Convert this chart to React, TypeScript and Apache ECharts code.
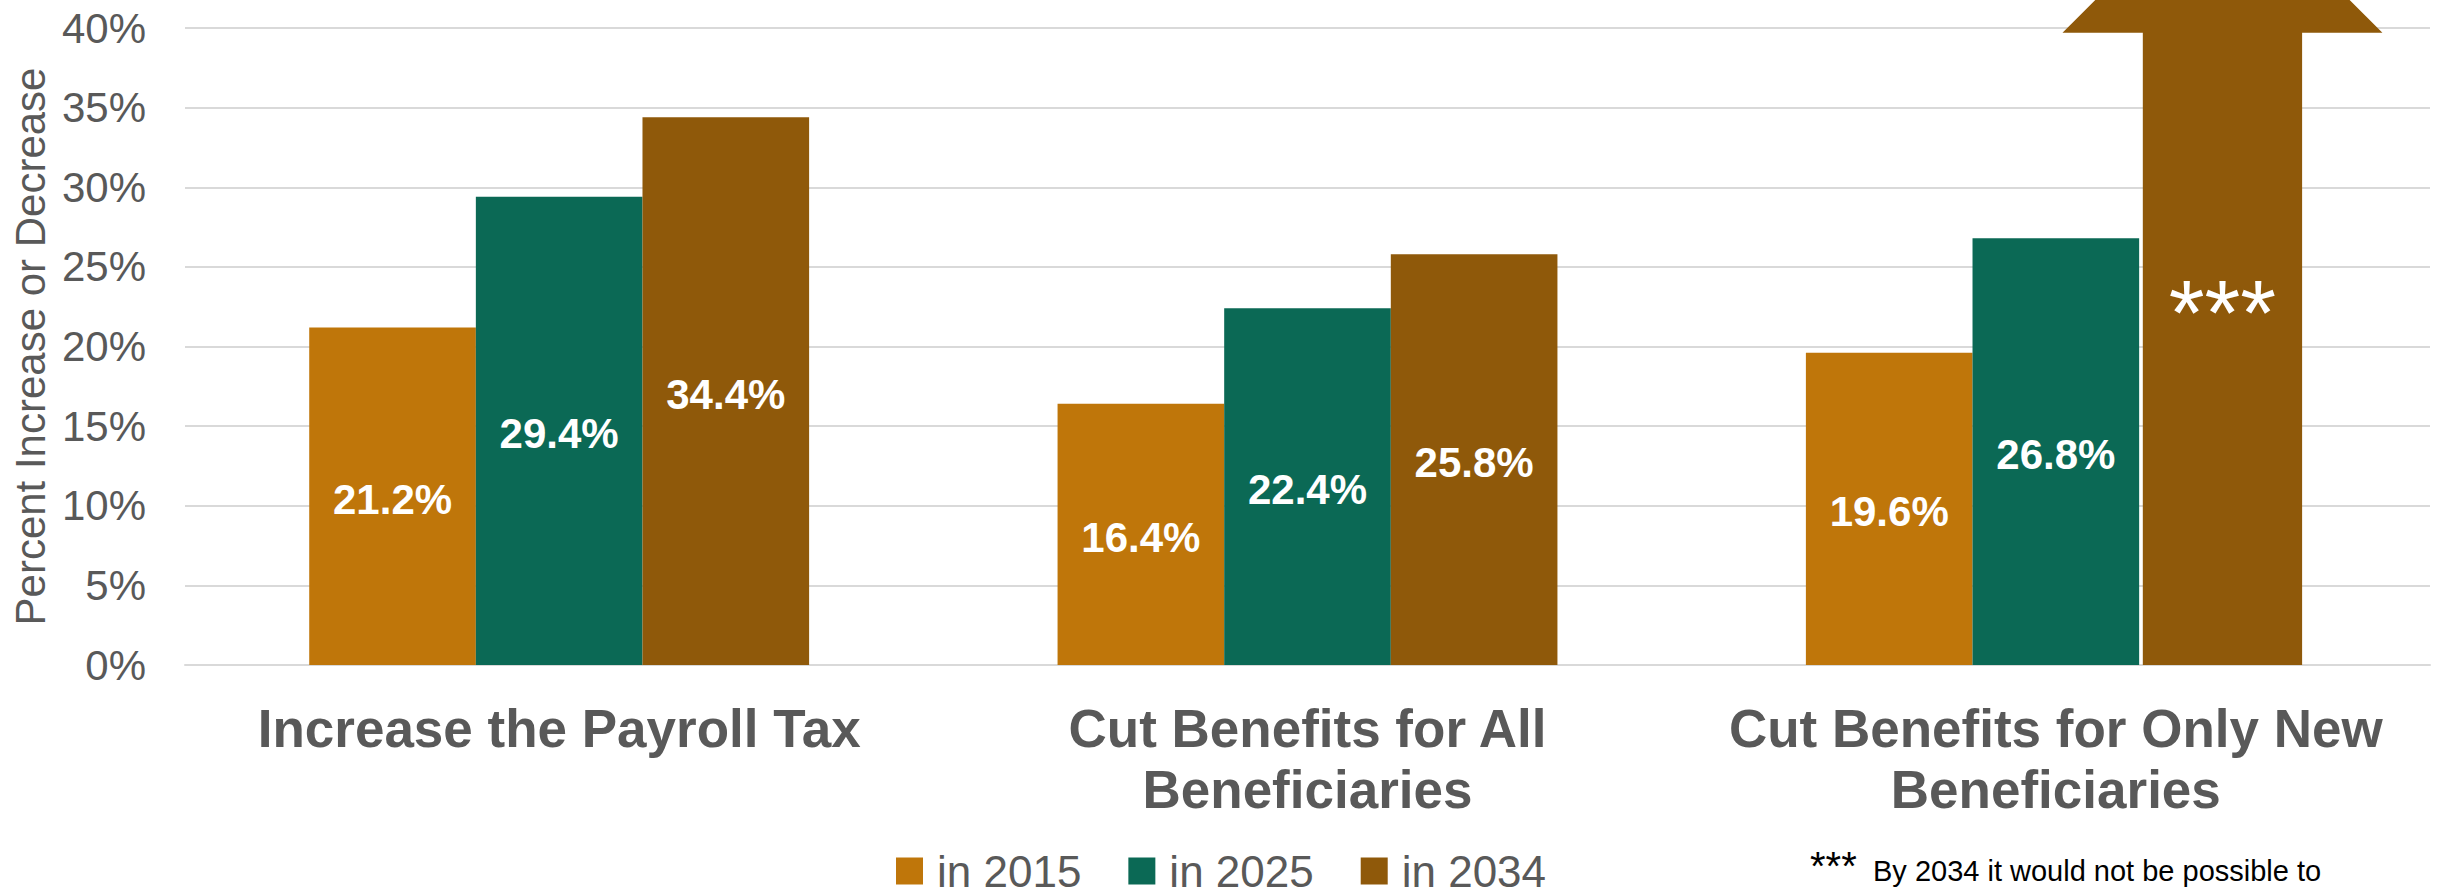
import React, { useEffect, useRef } from "react";
import * as echarts from "echarts";

const categories = [
  "Increase the Payroll Tax",
  "Cut Benefits for All\nBeneficiaries",
  "Cut Benefits for Only New\nBeneficiaries",
];
const seriesNames = ["in 2015", "in 2025", "in 2034"];
const values2015 = [21.2, 16.4, 19.6];
const values2025 = [29.4, 22.4, 26.8];
const values2034 = [34.4, 25.8, null];
// 2034 for "Cut Benefits for Only New Beneficiaries": off the chart (arrow)
const arrowCategoryIndex = 2;
const arrowValue = 39.7;
const arrowLabel = "***";
const yTicks = { min: 0, max: 40, interval: 5 };
const footnoteMark = "***";
const footnoteText = "By 2034 it would not be possible to";

const COLORS = ["#BF760A", "#0B6955", "#8F590A"];
const FONT = "'Liberation Sans', Arial, Helvetica, sans-serif";
const GREY = "#595959";
const BAR_CATEGORY_GAP = 0.332;

export default function App() {
  const ref = useRef<HTMLDivElement>(null);

  useEffect(() => {
    if (!ref.current) return;
    const chart = echarts.init(ref.current, undefined, { renderer: "svg" });

    const barLabel = {
      show: true,
      position: "inside",
      offset: [0, 3],
      color: "#FFFFFF",
      fontFamily: FONT,
      fontWeight: "bold",
      fontSize: 42,
      formatter: (p: any) => `${p.value.toFixed(1)}%`,
    };

    const makeBar = (name: string, data: (number | null)[], color: string) => ({
      name,
      type: "bar",
      data,
      barGap: "0%",
      barCategoryGap: `${BAR_CATEGORY_GAP * 100}%`,
      itemStyle: { color },
      label: barLabel,
    });

    const option: any = {
      animation: false,
      backgroundColor: "#FFFFFF",
      grid: { left: 185, right: 17, top: 28, bottom: 223, containLabel: false },
      legend: {
        data: seriesNames,
        left: 896,
        top: 849,
        padding: 0,
        itemWidth: 27,
        itemHeight: 27,
        itemGap: 47,
        icon: "rect",
        textStyle: {
          color: GREY,
          fontFamily: FONT,
          fontSize: 44,
          padding: [0, 0, 0, 9],
        },
      },
      xAxis: {
        type: "category",
        data: categories,
        axisTick: { show: false },
        axisLine: { show: true, lineStyle: { color: "#D9D9D9", width: 2 } },
        axisLabel: {
          interval: 0,
          color: GREY,
          fontFamily: FONT,
          fontWeight: "bold",
          fontSize: 53,
          lineHeight: 61,
          margin: 33,
        },
      },
      yAxis: {
        type: "value",
        min: yTicks.min,
        max: yTicks.max,
        interval: yTicks.interval,
        name: "Percent Increase or Decrease",
        nameLocation: "middle",
        nameGap: 130,
        nameTextStyle: { color: GREY, fontFamily: FONT, fontSize: 42 },
        axisLine: { show: false },
        axisTick: { show: false },
        axisLabel: {
          color: GREY,
          fontFamily: FONT,
          fontSize: 42,
          margin: 39,
          formatter: "{value}%",
        },
        splitLine: { lineStyle: { color: "#D9D9D9", width: 2 } },
      },
      series: [
        makeBar(seriesNames[0], values2015, COLORS[0]),
        makeBar(seriesNames[1], values2025, COLORS[1]),
        makeBar(seriesNames[2], values2034, COLORS[2]),
        {
          name: "arrow2034",
          type: "custom",
          clip: false,
          data: [[arrowCategoryIndex, arrowValue]],
          encode: { x: 0, y: 1 },
          z: 3,
          renderItem: (params: any, api: any) => {
            const cat = api.value(0);
            const val = api.value(1);
            const base = api.coord([cat, 0]);
            const top = api.coord([cat, val]);
            const catW = api.size([1, 0])[0];
            const barW = (catW * (1 - BAR_CATEGORY_GAP)) / 3;
            const cx = base[0] + barW;
            const sh = barW * 0.478;
            const hh = barW * 0.96;
            return {
              type: "group",
              children: [
                {
                  type: "polygon",
                  shape: {
                    points: [
                      [cx - sh, base[1]],
                      [cx - sh, top[1]],
                      [cx - hh, top[1]],
                      [cx, top[1] - hh],
                      [cx + hh, top[1]],
                      [cx + sh, top[1]],
                      [cx + sh, base[1]],
                    ],
                  },
                  style: { fill: COLORS[2] },
                },
                {
                  type: "text",
                  style: {
                    text: arrowLabel,
                    x: cx,
                    y: (base[1] + top[1]) / 2 - 36,
                    align: "center",
                    verticalAlign: "middle",
                    fill: "#FFFFFF",
                    fontFamily: FONT,
                    fontSize: 92,
                  },
                },
              ],
            };
          },
        },
      ],
      graphic: [
        {
          type: "text",
          left: 1810,
          top: 846,
          style: {
            text: footnoteMark,
            fill: "#000000",
            fontFamily: FONT,
            fontSize: 40,
          },
        },
        {
          type: "text",
          left: 1873,
          top: 856,
          style: {
            text: footnoteText,
            fill: "#000000",
            fontFamily: FONT,
            fontSize: 29,
          },
        },
      ],
    };

    chart.setOption(option);
    return () => chart.dispose();
  }, []);

  return (
    <div
      ref={ref}
      style={{ position: "absolute", left: 0, top: 0, width: 2447, height: 888 }}
    />
  );
}
